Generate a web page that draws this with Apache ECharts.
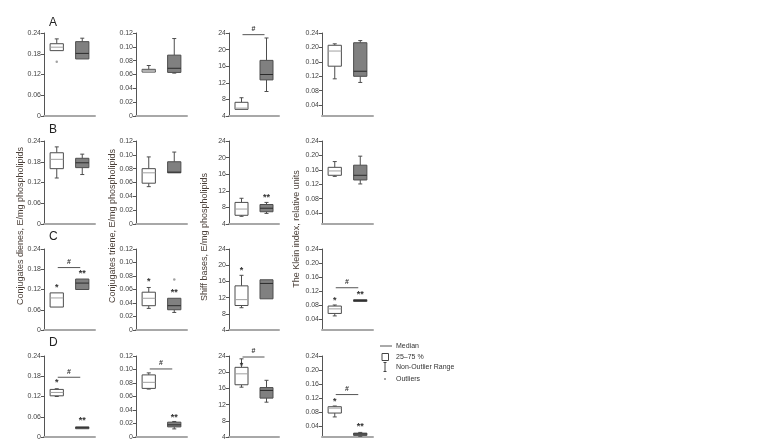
<!DOCTYPE html>
<html>
<head>
<meta charset="utf-8">
<script src="https://cdn.jsdelivr.net/npm/echarts@6/dist/echarts.min.js"></script>
<style>
  html, body { margin: 0; padding: 0; background: #fff; }
  #chart { width: 762px; height: 448px; }
</style>
</head>
<body>
<div id="chart"></div>
<script>
var rowLetters = ['A', 'B', 'C', 'D'];
var yTitles = ['Conjugates dienes, E/mg phospholipids', 'Conjugates triene, E/mg phospholipids',
  'Shiff bases, E/mg phospholipids', 'The Klein index, relative units'];
var colMin = [0, 0, 4, 0.01];
var colMax = [0.24, 0.12, 24, 0.24];
var colTicks = [
  [0, 0.06, 0.12, 0.18, 0.24],
  [0, 0.02, 0.04, 0.06, 0.08, 0.10, 0.12],
  [4, 8, 12, 16, 20, 24],
  [0.04, 0.08, 0.12, 0.16, 0.20, 0.24]
];
var colDigits = [2, 2, 0, 2];

// [low, q1, median, q3, high] for each column: [white group, grey group]
var boxesA = [
  [[0.188, 0.189, 0.199, 0.209, 0.223], [0.165, 0.165, 0.181, 0.215, 0.225]],
  [[0.063, 0.0635, 0.0655, 0.0675, 0.073], [0.062, 0.063, 0.069, 0.088, 0.112]],
  [[5.6, 5.6, 5.9, 7.3, 8.4], [9.9, 12.7, 14.0, 17.4, 22.8]],
  [[0.113, 0.148, 0.190, 0.206, 0.210], [0.103, 0.120, 0.134, 0.213, 0.219]]
];
var boxesB = [
  [[0.133, 0.160, 0.187, 0.206, 0.223], [0.143, 0.163, 0.177, 0.190, 0.202]],
  [[0.054, 0.059, 0.074, 0.080, 0.097], [0.074, 0.074, 0.075, 0.090, 0.104]],
  [[5.85, 6.1, 7.6, 9.2, 10.2], [6.55, 6.95, 7.8, 8.7, 9.2]],
  [[0.142, 0.145, 0.157, 0.167, 0.183], [0.121, 0.132, 0.145, 0.173, 0.198]]
];
var boxesC = [
  [[0.068, 0.068, 0.095, 0.110, 0.110], [0.120, 0.120, 0.139, 0.151, 0.151]],
  [[0.032, 0.036, 0.047, 0.056, 0.063], [0.026, 0.030, 0.036, 0.047, 0.047]],
  [[9.5, 10.05, 11.5, 14.9, 17.5], [11.7, 11.7, 15.5, 16.4, 16.4]],
  [[0.050, 0.057, 0.070, 0.078, 0.081], [0.091, 0.091, 0.094, 0.096, 0.096]]
];
var boxesD = [
  [[0.120, 0.122, 0.132, 0.141, 0.143], [0.0245, 0.0245, 0.0275, 0.030, 0.030]],
  [[0.071, 0.072, 0.081, 0.092, 0.095], [0.012, 0.015, 0.018, 0.022, 0.023]],
  [[16.3, 16.9, 19.6, 21.2, 23.3], [12.6, 13.6, 15.5, 16.2, 18.0]],
  [[0.067, 0.078, 0.092, 0.096, 0.098], [0.012, 0.0145, 0.0185, 0.021, 0.023]]
];
var allBoxes = [boxesA, boxesB, boxesC, boxesD];

// [row, col, group, value]
var outliers = [[0, 0, 0, 0.157], [2, 1, 1, 0.075]];
// [row, col, group, value, text]
var stars = [
  [1, 2, 1, 11.0, '**'],
  [2, 0, 0, 0.135, '*'], [2, 0, 1, 0.175, '**'],
  [2, 1, 0, 0.0756, '*'], [2, 1, 1, 0.060, '**'],
  [2, 2, 0, 19.4, '*'],
  [2, 3, 0, 0.1034, '*'], [2, 3, 1, 0.120, '**'],
  [3, 0, 0, 0.169, '*'], [3, 0, 1, 0.058, '**'],
  [3, 1, 1, 0.033, '**'],
  [3, 2, 0, 22.4, '*'],
  [3, 3, 0, 0.119, '*'], [3, 3, 1, 0.047, '**']
];
// [row, col, value] : bar with '#' between both groups
var sigBars = [[0, 2, 23.6], [2, 0, 0.185], [2, 3, 0.13], [3, 0, 0.177], [3, 1, 0.1008], [3, 2, 23.75], [3, 3, 0.1305]];

var legendLabels = ['Median', '25\u201375 %', 'Non-Outlier Range', 'Outliers'];

var colLeft = [44, 136, 229, 322];
var colWidth = [51, 51, 50, 51];
var rowTop = [33, 141, 249, 356];
var rowHeight = [83, 83, 81, 81];
var FONT = 'Liberation Sans';

function renderBox(params, api) {
  var cat = api.value(0);
  var lo = api.coord([cat, api.value(1)]);
  var q1 = api.coord([cat, api.value(2)]);
  var md = api.coord([cat, api.value(3)]);
  var q3 = api.coord([cat, api.value(4)]);
  var hi = api.coord([cat, api.value(5)]);
  var bw = api.size([1, 0])[0] * 0.52;
  var x = lo[0];
  var grey = cat === 1;
  var stroke = '#4d4d4d';
  var cap = 2;
  var kids = [];
  if (hi[1] < q3[1] - 0.5) {
    kids.push({type: 'line', shape: {x1: x, y1: hi[1], x2: x, y2: q3[1]}, style: {stroke: stroke, lineWidth: 1}});
    kids.push({type: 'line', shape: {x1: x - cap, y1: hi[1], x2: x + cap, y2: hi[1]}, style: {stroke: stroke, lineWidth: 1}});
  }
  if (lo[1] > q1[1] + 0.5) {
    kids.push({type: 'line', shape: {x1: x, y1: q1[1], x2: x, y2: lo[1]}, style: {stroke: stroke, lineWidth: 1}});
    kids.push({type: 'line', shape: {x1: x - cap, y1: lo[1], x2: x + cap, y2: lo[1]}, style: {stroke: stroke, lineWidth: 1}});
  }
  kids.push({type: 'rect', shape: {x: x - bw / 2, y: q3[1], width: bw, height: Math.max(q1[1] - q3[1], 1.5)},
    style: {fill: grey ? '#808080' : '#ffffff', stroke: stroke, lineWidth: 1}});
  kids.push({type: 'line', shape: {x1: x - bw / 2, y1: md[1], x2: x + bw / 2, y2: md[1]},
    style: {stroke: grey ? '#2b2b2b' : '#a0a0a0', lineWidth: 1}});
  return {type: 'group', children: kids};
}

function renderSig(params, api) {
  var a = api.coord([0, api.value(0)]);
  var b = api.coord([1, api.value(0)]);
  var x1 = a[0] + 1, x2 = b[0] - 2;
  return {type: 'group', children: [
    {type: 'line', shape: {x1: x1, y1: a[1], x2: x2, y2: a[1]}, style: {stroke: '#555', lineWidth: 1}},
    {type: 'text', x: (x1 + x2) / 2, y: a[1] - 2,
      style: {text: '#', fill: '#333', font: 'bold 7px ' + FONT, align: 'center', verticalAlign: 'bottom'}}
  ]};
}

function renderStar(params, api) {
  var p = api.coord([api.value(0), api.value(1)]);
  var txt = api.value(2) === 2 ? '**' : '*';
  return {type: 'text', x: p[0], y: p[1] + 3,
    style: {text: txt, fill: '#333', font: 'bold 9px ' + FONT, align: 'center', verticalAlign: 'middle'}};
}

var grids = [], xAxes = [], yAxes = [], series = [];
for (var r = 0; r < 4; r++) {
  for (var c = 0; c < 4; c++) {
    var idx = r * 4 + c;
    grids.push({left: colLeft[c], top: rowTop[r], width: colWidth[c], height: rowHeight[r]});
    xAxes.push({type: 'category', gridIndex: idx, data: ['Control', 'Experiment'], boundaryGap: true,
      axisLabel: {show: false}, axisTick: {show: false},
      axisLine: {onZero: false, lineStyle: {color: '#a8a8a8', width: 2}}});
    (function (cc) {
      yAxes.push({type: 'value', gridIndex: idx, min: colMin[cc], max: colMax[cc],
        splitLine: {show: false},
        axisLine: {show: true, onZero: false, lineStyle: {color: '#555', width: 1}},
        axisTick: {show: true, length: 3, customValues: colTicks[cc], lineStyle: {color: '#555'}},
        axisLabel: {customValues: colTicks[cc], fontSize: 7, color: '#444', margin: 3, fontFamily: FONT,
          formatter: function (v) { return v === 0 ? '0' : v.toFixed(colDigits[cc]); }}});
    })(c);
    var bx = allBoxes[r][c];
    series.push({type: 'custom', xAxisIndex: idx, yAxisIndex: idx, clip: false, renderItem: renderBox,
      data: [[0].concat(bx[0]), [1].concat(bx[1])]});
    var outs = outliers.filter(function (o) { return o[0] === r && o[1] === c; });
    if (outs.length) {
      series.push({type: 'scatter', xAxisIndex: idx, yAxisIndex: idx, symbolSize: 2.5,
        itemStyle: {color: '#8a8a8a'}, data: outs.map(function (o) { return [o[2], o[3]]; })});
    }
    var st = stars.filter(function (s) { return s[0] === r && s[1] === c; });
    if (st.length) {
      series.push({type: 'custom', xAxisIndex: idx, yAxisIndex: idx, clip: false, renderItem: renderStar,
        data: st.map(function (s) { return [s[2], s[3], s[4].length]; })});
    }
    var sg = sigBars.filter(function (s) { return s[0] === r && s[1] === c; });
    if (sg.length) {
      series.push({type: 'custom', xAxisIndex: idx, yAxisIndex: idx, clip: false, renderItem: renderSig,
        data: sg.map(function (s) { return [s[2]]; })});
    }
  }
}

var graphics = [];
var letterY = [24, 131, 238, 344];
rowLetters.forEach(function (t, i) {
  graphics.push({type: 'text', left: 49, top: letterY[i] - 7,
    style: {text: t, fill: '#222', font: '12px ' + FONT}});
});
var titleX = [21, 113, 205, 297];
var titleY = [226, 226, 237, 229];
yTitles.forEach(function (t, i) {
  graphics.push({type: 'text', x: titleX[i], y: titleY[i], rotation: Math.PI / 2,
    style: {text: t, fill: '#4a3f38', font: '9px ' + FONT, align: 'center', verticalAlign: 'middle'}});
});
// legend
var lg = {x: 385, y: [346, 357, 367, 379]};
graphics.push({type: 'line', shape: {x1: 380, y1: lg.y[0], x2: 392, y2: lg.y[0]}, style: {stroke: '#555', lineWidth: 1}});
graphics.push({type: 'rect', shape: {x: 382, y: lg.y[1] - 3.5, width: 6.5, height: 7}, style: {fill: '#fff', stroke: '#444', lineWidth: 1}});
graphics.push({type: 'line', shape: {x1: lg.x, y1: lg.y[2] - 4.5, x2: lg.x, y2: lg.y[2] + 4.5}, style: {stroke: '#444', lineWidth: 1}});
graphics.push({type: 'line', shape: {x1: lg.x - 1.5, y1: lg.y[2] - 4.5, x2: lg.x + 1.5, y2: lg.y[2] - 4.5}, style: {stroke: '#444', lineWidth: 1}});
graphics.push({type: 'line', shape: {x1: lg.x - 1.5, y1: lg.y[2] + 4.5, x2: lg.x + 1.5, y2: lg.y[2] + 4.5}, style: {stroke: '#444', lineWidth: 1}});
graphics.push({type: 'circle', shape: {cx: lg.x, cy: lg.y[3], r: 1}, style: {fill: '#888'}});
legendLabels.forEach(function (t, i) {
  graphics.push({type: 'text', x: 396, y: lg.y[i],
    style: {text: t, fill: '#333', font: '7px ' + FONT, align: 'left', verticalAlign: 'middle'}});
});

var chart = echarts.init(document.getElementById('chart'), null, {renderer: 'canvas'});
chart.setOption({
  animation: false,
  backgroundColor: '#fff',
  grid: grids,
  xAxis: xAxes,
  yAxis: yAxes,
  series: series,
  graphic: graphics
});
</script>
</body>
</html>
